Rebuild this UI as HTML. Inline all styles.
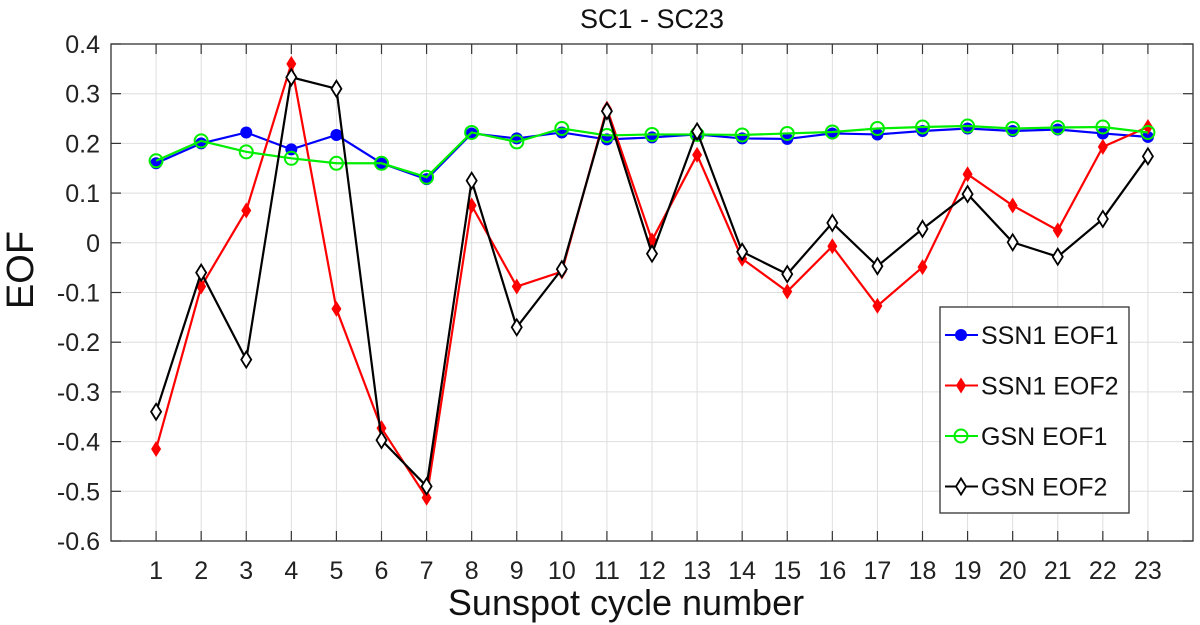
<!DOCTYPE html>
<html><head><meta charset="utf-8"><style>
html,body{margin:0;padding:0;background:#fff;}
svg{display:block;font-family:"Liberation Sans",Arial,sans-serif;}
</style></head><body>
<svg id="chart" width="1200" height="625" viewBox="0 0 1200 625" xmlns="http://www.w3.org/2000/svg">
<text x="652" y="28" font-size="27" text-anchor="middle" fill="#111">SC1 - SC23</text>
<g id="grid"></g>
<g id="axes"></g>
<g id="series"></g>
<text x="626" y="615" font-size="36" text-anchor="middle" fill="#111">Sunspot cycle number</text>
<text x="33" y="270" font-size="38" text-anchor="middle" fill="#111" transform="rotate(-90 33 270)">EOF</text>
<g id="legend"></g>
</svg>
<script>
const cycles = [1,2,3,4,5,6,7,8,9,10,11,12,13,14,15,16,17,18,19,20,21,22,23];
const ssn1Eof1 = [0.16,0.20,0.222,0.188,0.217,0.16,0.128,0.22,0.21,0.222,0.208,0.212,0.218,0.21,0.209,0.22,0.218,0.225,0.23,0.225,0.228,0.22,0.213];
const ssn1Eof2 = [-0.415,-0.088,0.065,0.36,-0.133,-0.373,-0.513,0.075,-0.088,-0.058,0.27,0.005,0.177,-0.032,-0.098,-0.007,-0.127,-0.049,0.138,0.075,0.025,0.193,0.233];
const gsnEof1 = [0.165,0.205,0.183,0.17,0.16,0.16,0.132,0.222,0.203,0.23,0.216,0.218,0.218,0.217,0.22,0.223,0.23,0.233,0.235,0.23,0.232,0.233,0.222];
const gsnEof2 = [-0.34,-0.06,-0.235,0.333,0.31,-0.397,-0.49,0.125,-0.17,-0.053,0.265,-0.022,0.224,-0.018,-0.063,0.04,-0.047,0.028,0.098,0.001,-0.028,0.048,0.174];
const yTicks = [0.4,0.3,0.2,0.1,0,-0.1,-0.2,-0.3,-0.4,-0.5,-0.6];
const yTickLabels = ["0.4","0.3","0.2","0.1","0","-0.1","-0.2","-0.3","-0.4","-0.5","-0.6"];

const NS="http://www.w3.org/2000/svg";
const L=111,R=1193,T=44,B=541;
const xMin=0,xMax=24,yMin=-0.6,yMax=0.4;
function xs(v){return L+(v-xMin)/(xMax-xMin)*(R-L);}
function ys(v){return B-(v-yMin)/(yMax-yMin)*(B-T);}
function mk(tag,attrs,parent){const e=document.createElementNS(NS,tag);for(const k in attrs)e.setAttribute(k,attrs[k]);parent.appendChild(e);return e;}

const grid=document.getElementById('grid'),axes=document.getElementById('axes'),ser=document.getElementById('series'),leg=document.getElementById('legend');
cycles.forEach(c=>{
  const g=mk('line',{x1:xs(c),x2:xs(c),y1:T,y2:B,stroke:'#dedede','stroke-width':1},grid);
  
  
  const t1=mk('line',{x1:xs(c),x2:xs(c),y1:B,y2:B-10,stroke:'#333','stroke-width':1.2},axes);
  
  
  const t2=mk('line',{x1:xs(c),x2:xs(c),y1:T,y2:T+10,stroke:'#333','stroke-width':1.2},axes);
  
  
  const lb=mk('text',{x:xs(c),y:579,'font-size':25,'text-anchor':'middle',fill:'#222'},axes);
  lb.textContent=c;
  
  
});
yTicks.forEach((v,i)=>{
  const g=mk('line',{x1:L,x2:R,y1:ys(v),y2:ys(v),stroke:'#dedede','stroke-width':1},grid);
  
  
  const t1=mk('line',{x1:L,x2:L+10,y1:ys(v),y2:ys(v),stroke:'#333','stroke-width':1.2},axes);
  
  
  const t2=mk('line',{x1:R,x2:R-10,y1:ys(v),y2:ys(v),stroke:'#333','stroke-width':1.2},axes);
  
  
  const lb=mk('text',{x:100,y:ys(v)+9,'font-size':25,'text-anchor':'end',fill:'#222'},axes);
  lb.textContent=yTickLabels[i];
  
  
});
const box=mk('rect',{x:L,y:T,width:R-L,height:B-T,fill:'none',stroke:'#333','stroke-width':1.3},axes);



function marker(type,x,y,color,parent){
  let m;
  if(type==='dot') m=mk('circle',{cx:x,cy:y,r:6,fill:color},parent);
  else if(type==='ring') m=mk('circle',{cx:x,cy:y,r:6.5,fill:'none',stroke:color,'stroke-width':2},parent);
  else if(type==='fdiamond') m=mk('polygon',{points:`${x},${y-8} ${x+5},${y} ${x},${y+8} ${x-5},${y}`,fill:color},parent);
  else m=mk('polygon',{points:`${x},${y-8} ${x+5},${y} ${x},${y+8} ${x-5},${y}`,fill:'#fff',stroke:color,'stroke-width':1.8},parent);
  return m;
}
const seriesList=[
  {name:'SSN1 EOF1',vals:ssn1Eof1,color:'#0000ff',m:'dot',id:'ssn1-eof1'},
  {name:'SSN1 EOF2',vals:ssn1Eof2,color:'#ff0000',m:'fdiamond',id:'ssn1-eof2'},
  {name:'GSN EOF1',vals:gsnEof1,color:'#00ee00',m:'ring',id:'gsn-eof1'},
  {name:'GSN EOF2',vals:gsnEof2,color:'#000000',m:'odiamond',id:'gsn-eof2'}
];
seriesList.forEach(s=>{
  const g=mk('g',{},ser);
  
  
  const pts=cycles.map((c,i)=>xs(c)+','+ys(s.vals[i])).join(' ');
  const pl=mk('polyline',{points:pts,fill:'none',stroke:s.color,'stroke-width':2.2},g);
  
  
  cycles.forEach((c,i)=>{
    const m=marker(s.m,xs(c),ys(s.vals[i]),s.color,g);
    
    
  });
});
const lr=mk('rect',{x:940,y:307,width:189,height:206,fill:'#fff',stroke:'#333','stroke-width':1.3},leg);


seriesList.forEach((s,i)=>{
  const y=335+i*50.5;
  const g=mk('g',{},leg);
  
  
  mk('line',{x1:945,x2:978,y1:y,y2:y,stroke:s.color,'stroke-width':2},g);
  marker(s.m,961,y,s.color,g);
  const t=mk('text',{x:981,y:y+9,'font-size':25,fill:'#111'},g);
  t.textContent=s.name;
});
</script>
</body></html>
